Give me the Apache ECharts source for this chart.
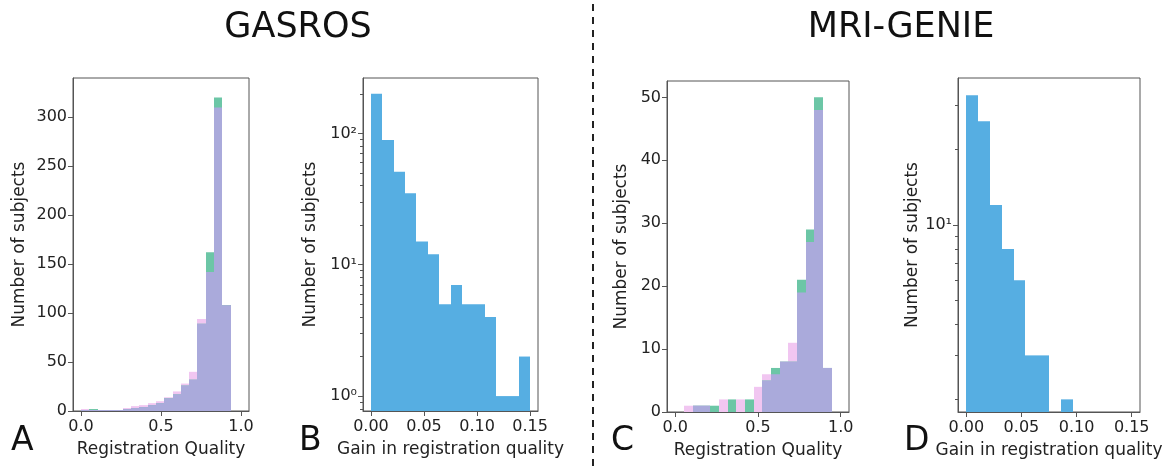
<!DOCTYPE html>
<html lang="en">
<head>
<meta charset="UTF-8">
<title>Registration quality</title>
<script src="https://cdn.jsdelivr.net/npm/echarts@6/dist/echarts.min.js"></script>
<style>
    html, body { margin: 0; padding: 0; background: #fff; }
    #chart { width: 1176px; height: 466px; }
</style>
</head>
<body>
<div id="chart"></div>
<script>
    // GASROS - registration quality, two overlaid histograms (pink / green)
    var binStartA = 0.0, binWidthA = 0.052;
    var qualityPinkA  = [2, 1, 1, 1, 1, 3, 5, 6, 8, 10, 14, 20, 28, 40, 94, 142, 310, 108];
    var qualityGreenA = [1, 2, 1, 1, 1, 2, 3, 4, 6, 8, 13, 17, 26, 32, 89, 162, 320, 108];
    // GASROS - gain in registration quality
    var binStartB = 0.0, binWidthB = 0.15 / 14;
    var gainB = [200, 89, 51, 35, 15, 12, 5, 7, 5, 5, 4, 1, 1, 2];
    // MRI-GENIE - registration quality
    var binStartC = 0.054, binWidthC = 0.0524;
    var qualityPinkC  = [1, 1, 1, 0, 2, 0, 2, 0, 4, 6, 6, 8, 11, 19, 27, 48, 7];
    var qualityGreenC = [0, 1, 1, 1, 0, 2, 0, 2, 0, 5, 7, 8, 8, 21, 29, 50, 7];
    // MRI-GENIE - gain
    var binStartD = 0.0, binWidthD = 0.15 / 14;
    var gainD = [33, 26, 12, 8, 6, 3, 3, 0, 2, 0, 0, 0, 0, 0];

    var qualityTicks = [0, 0.5, 1.0];
    var gainTicks = [0, 0.05, 0.10, 0.15];
    var countTicksA = [0, 50, 100, 150, 200, 250, 300];
    var countTicksC = [0, 10, 20, 30, 40, 50];
    var logTicksB = [1, 10, 100];
    var minorTicksB = [0.8, 0.9, 2, 3, 4, 5, 6, 7, 8, 9, 20, 30, 40, 50, 60, 70, 80, 90, 200];
    var logTicksD = [10];
    var minorTicksD = [2, 3, 4, 5, 6, 7, 8, 9, 20, 30];

    var PINK = '#f1c6f1', GREEN = '#6cc6a6', LAV = '#aaaadb', BLUE = '#56aee2';
    var FONT = 'DejaVu Sans';
    var INK = '#222';
    var SPINE = '#555';

    function binData(start, width, values) {
        return values.map(function (v, i) {
            return [start + i * width, start + (i + 1) * width, v];
        });
    }
    function overlap(a, b) {
        return a.map(function (v, i) { return Math.min(v, b[i]); });
    }

    function histSeries(gridIdx, yIdx, data, color, base) {
        return {
            type: 'custom',
            xAxisIndex: gridIdx,
            yAxisIndex: yIdx,
            data: data,
            renderItem: function (params, api) {
                var v = api.value(2);
                if (!v) return;
                var p0 = api.coord([api.value(0), v]);
                var p1 = api.coord([api.value(1), base]);
                var x0 = Math.round(p0[0]), x1 = Math.round(p1[0]);
                return {
                    type: 'rect',
                    shape: { x: x0, y: p0[1], width: x1 - x0, height: p1[1] - p0[1] },
                    style: { fill: color }
                };
            }
        };
    }

    var superDigits = { '0': '\u2070', '1': '\u00b9', '2': '\u00b2' };
    function powLabel(v) {
        var e = Math.round(Math.log10(v));
        return '10' + String(e).split('').map(function (c) { return superDigits[c]; }).join('');
    }

    function xAxisCfg(gridIdx, min, max, ticks, name, decimals) {
        return {
            type: 'value', gridIndex: gridIdx, min: min, max: max,
            name: name, nameLocation: 'middle', nameGap: 30,
            nameTextStyle: { fontSize: 17, color: INK, fontFamily: FONT },
            axisLine: { show: true, onZero: false, lineStyle: { color: SPINE } },
            axisTick: { show: true, customValues: ticks, length: 5, lineStyle: { color: SPINE } },
            axisLabel: {
                customValues: ticks, fontSize: 16, color: INK, fontFamily: FONT, margin: 8,
                formatter: function (v) { return (+v).toFixed(decimals); }
            },
            splitLine: { show: false }
        };
    }
    function yAxisCfg(gridIdx, type, min, max, ticks, nameGap, fmt) {
        return {
            type: type, logBase: 10, gridIndex: gridIdx, min: min, max: max, position: 'left',
            name: 'Number of subjects', nameLocation: 'middle', nameGap: nameGap,
            nameTextStyle: { fontSize: 17, color: INK, fontFamily: FONT },
            axisLine: { show: true, onZero: false, lineStyle: { color: SPINE } },
            axisTick: { show: true, customValues: ticks, length: 5, lineStyle: { color: SPINE } },
            axisLabel: { customValues: ticks, fontSize: 16, color: INK, fontFamily: FONT, margin: 6, formatter: fmt },
            splitLine: { show: false }
        };
    }
    function minorAxisCfg(gridIdx, min, max, ticks) {
        return {
            type: 'log', logBase: 10, gridIndex: gridIdx, min: min, max: max, position: 'left',
            axisLine: { show: false, onZero: false },
            axisTick: { show: true, customValues: ticks, length: 3, lineStyle: { color: SPINE } },
            axisLabel: { show: false },
            splitLine: { show: false }
        };
    }

    var gridStyle = { show: true, borderColor: SPINE, borderWidth: 1, backgroundColor: 'transparent' };
    var yMinB = 0.77, yMaxB = 264, yMinD = 1.78, yMaxD = 38.7;

    var chart = echarts.init(document.getElementById('chart'));
    chart.setOption({
        animation: false,
        grid: [
            Object.assign({ left: 73, top: 78, width: 176, height: 333 }, gridStyle),
            Object.assign({ left: 363, top: 78, width: 175, height: 333 }, gridStyle),
            Object.assign({ left: 667, top: 81, width: 182, height: 331 }, gridStyle),
            Object.assign({ left: 958, top: 78, width: 182, height: 334 }, gridStyle)
        ],
        xAxis: [
            xAxisCfg(0, -0.05, 1.05, qualityTicks, 'Registration Quality', 1),
            xAxisCfg(1, -0.0075, 0.1575, gainTicks, 'Gain in registration quality', 2),
            xAxisCfg(2, -0.05, 1.05, qualityTicks, 'Registration Quality', 1),
            xAxisCfg(3, -0.0075, 0.1575, gainTicks, 'Gain in registration quality', 2)
        ],
        yAxis: [
            yAxisCfg(0, 'value', 0, 340, countTicksA, 45),
            yAxisCfg(1, 'log', yMinB, yMaxB, logTicksB, 44, powLabel),
            yAxisCfg(2, 'value', 0, 52.6, countTicksC, 37),
            yAxisCfg(3, 'log', yMinD, yMaxD, logTicksD, 32, powLabel),
            minorAxisCfg(1, yMinB, yMaxB, minorTicksB),
            minorAxisCfg(3, yMinD, yMaxD, minorTicksD)
        ],
        series: [
            histSeries(0, 0, binData(binStartA, binWidthA, qualityPinkA), PINK, 0),
            histSeries(0, 0, binData(binStartA, binWidthA, qualityGreenA), GREEN, 0),
            histSeries(0, 0, binData(binStartA, binWidthA, overlap(qualityPinkA, qualityGreenA)), LAV, 0),
            histSeries(1, 1, binData(binStartB, binWidthB, gainB), BLUE, yMinB),
            histSeries(2, 2, binData(binStartC, binWidthC, qualityPinkC), PINK, 0),
            histSeries(2, 2, binData(binStartC, binWidthC, qualityGreenC), GREEN, 0),
            histSeries(2, 2, binData(binStartC, binWidthC, overlap(qualityPinkC, qualityGreenC)), LAV, 0),
            histSeries(3, 3, binData(binStartD, binWidthD, gainD), BLUE, yMinD)
        ],
        graphic: [
            { type: 'text', x: 298, y: 28, style: { text: 'GASROS', font: '35px "DejaVu Sans"', fill: '#111', align: 'center', verticalAlign: 'middle' } },
            { type: 'text', x: 901, y: 28, style: { text: 'MRI-GENIE', font: '35px "DejaVu Sans"', fill: '#111', align: 'center', verticalAlign: 'middle' } },
            { type: 'line', shape: { x1: 593, y1: 4, x2: 593, y2: 466 }, style: { stroke: '#222', lineWidth: 2, lineDash: [7, 6] } },
            { type: 'text', x: 11, y: 441, style: { text: 'A', font: '33px "DejaVu Sans"', fill: '#111', verticalAlign: 'middle' } },
            { type: 'text', x: 299, y: 441, style: { text: 'B', font: '33px "DejaVu Sans"', fill: '#111', verticalAlign: 'middle' } },
            { type: 'text', x: 611, y: 441, style: { text: 'C', font: '33px "DejaVu Sans"', fill: '#111', verticalAlign: 'middle' } },
            { type: 'text', x: 904, y: 441, style: { text: 'D', font: '33px "DejaVu Sans"', fill: '#111', verticalAlign: 'middle' } }
        ]
    });
</script>
</body>
</html>
